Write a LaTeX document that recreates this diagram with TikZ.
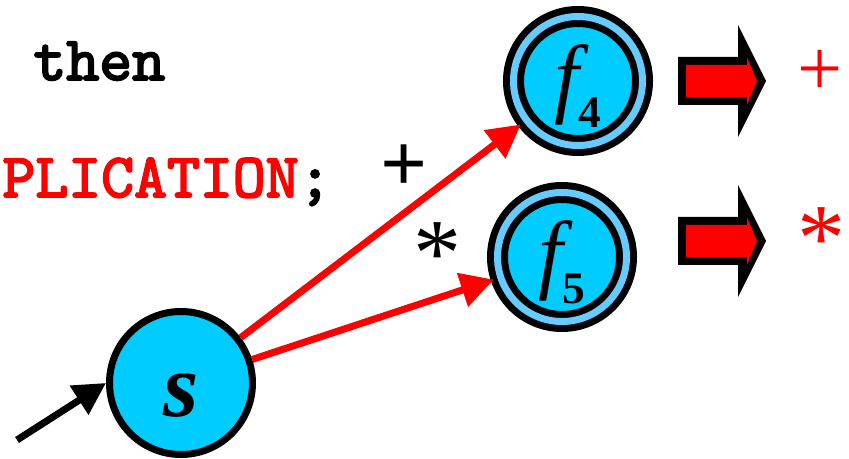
\documentclass[tikz,border=0pt]{standalone}
\usepackage{fontspec}
\setmainfont{Liberation Serif}
\newfontfamily\codefont{lmmono10-regular.otf}[FakeBold=3]
\usetikzlibrary{arrows.meta}

\definecolor{stateblue}{RGB}{0,204,255}
\definecolor{ringblue}{RGB}{102,204,255}
\definecolor{tokred}{RGB}{255,0,0}

\tikzset{every picture/.style={line width=0.75pt}}
\tikzset{
  state/.style={circle, draw=black, line width=5.25pt, fill=stateblue, minimum size=107.25pt, inner sep=0pt},
  accept/.style={circle, draw=black, line width=5.25pt, double=ringblue, double distance=5.25pt, fill=stateblue, minimum size=96.75pt, inner sep=0pt, outer sep=5.5pt},
  trans/.style={draw=tokred, line width=5.25pt, -{Triangle[length=24.75pt,width=25.5pt]}},
  codetxt/.style={font=\fontsize{47}{47}\selectfont\codefont, inner sep=0pt, anchor=base west},
  symtxt/.style={inner sep=0pt, anchor=base, font=\fontsize{60}{60}\selectfont},
}
\newcommand{\fsublbl}[1]{\raisebox{-19.5pt}[0pt][0pt]{{\fontsize{66}{66}\selectfont\itshape f}\raisebox{-15.75pt}{\fontsize{34}{34}\selectfont\bfseries #1}}}

\begin{document}
\begin{tikzpicture}[x=0.75pt,y=0.75pt,yscale=-1,xscale=1]
    \useasboundingbox (0,0) rectangle (849,459);

    % States
    \node [state] (s) at (181,383) {\raisebox{-24.75pt}[0pt][0pt]{\fontsize{68}{68}\selectfont\bfseries\itshape s}};
    \node [accept] (f4) at (578,81) {\fsublbl{4}};
    \node [accept] (f5) at (562,257) {\fsublbl{5}};
    \coordinate (start) at (17,440);

    % Transitions
    \draw [line width=5.25pt, -{Triangle[length=24pt,width=24.75pt]}] (start) -- (s.west);
    \draw [trans] (s) -- (f4);
    \draw [trans] (s) -- (f5);

    % Text Node
    \node [codetxt] (thenkw) at (33,80) {then};
    % Text Node
    \node [codetxt] (plication) at (2,197) {\textcolor{tokred}{PLICATION};};
    % Text Node
    \node [symtxt, font=\fontsize{62}{62}\selectfont\bfseries] (plus) at (404,192) {+};
    % Text Node
    \node [symtxt, font=\fontsize{72}{72}\selectfont] (star) at (437,286) {*};

    %Right Arrow
    \draw [fill=black, draw=none] (678,57) -- (738,57) -- (738,25) -- (766,81) -- (738,137) -- (738,105) -- (678,105) -- cycle;
    \fill [tokred] (686,65) -- (747,65) -- (747,57) -- (757,81) -- (747,105) -- (747,97) -- (686,97) -- cycle;
    %Right Arrow
    \draw [fill=black, draw=none] (678,217) -- (738,217) -- (738,185) -- (766,241) -- (738,297) -- (738,265) -- (678,265) -- cycle;
    \fill [tokred] (686,225) -- (747,225) -- (747,217) -- (757,241) -- (747,265) -- (747,257) -- (686,257) -- cycle;

    % Text Node
    \node [symtxt, text=tokred] (plusout) at (820,96) {+};
    % Text Node
    \node [symtxt, text=tokred, font=\fontsize{72}{72}\selectfont] (starout) at (821,271) {*};
\end{tikzpicture}
\end{document}
